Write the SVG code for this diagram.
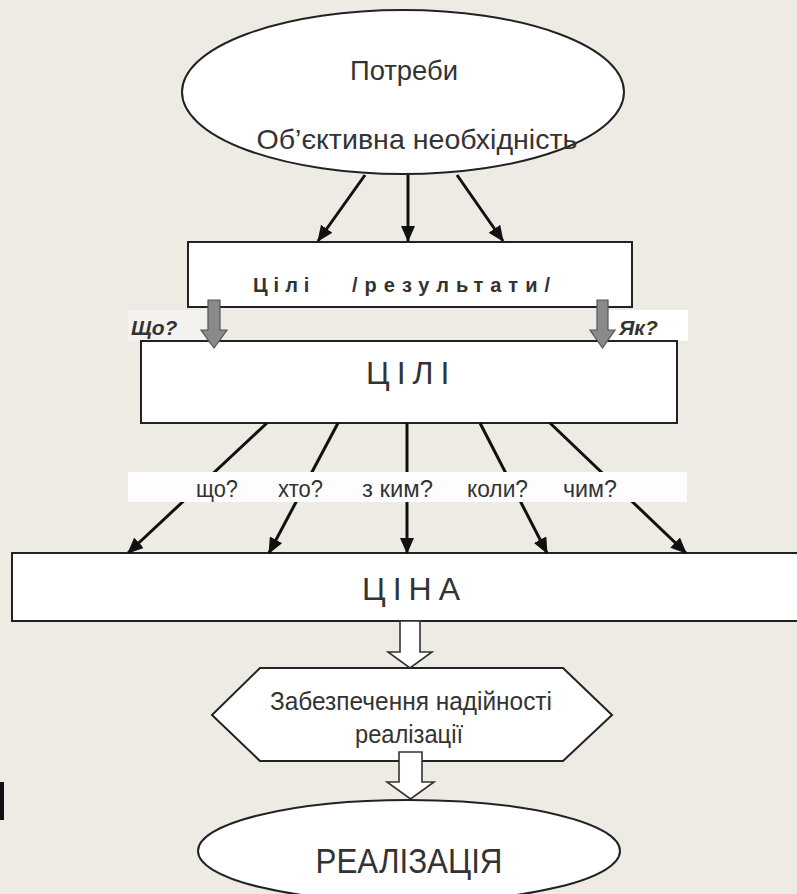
<svg xmlns="http://www.w3.org/2000/svg" width="797" height="894" viewBox="0 0 797 894">
  <style>
    .shape { fill: #ffffff; stroke: #222222; stroke-width: 2; }
    .txt { font-family: "Liberation Sans", Arial, sans-serif; fill: #333333; }
    .line { stroke: #111111; stroke-width: 3; fill: none; marker-end: url(#ah); }
    .grey { fill: #8a8a8a; stroke: #555555; stroke-width: 1.2; }
    .hollow { fill: #ffffff; stroke: #333333; stroke-width: 1.6; }
    .q { font-size: 24px; }
  </style>
  <defs>
    <marker id="ah" markerUnits="userSpaceOnUse" markerWidth="16" markerHeight="14" viewBox="0 0 16 14" refX="15" refY="7" orient="auto">
      <path d="M0,0 L16,7 L0,14 z" fill="#111111"/>
    </marker>
  </defs>

  <rect x="0" y="0" width="797" height="894" fill="#EDEBE3"/>

  <g id="needs">
    <ellipse class="shape" cx="403" cy="92" rx="221" ry="82" stroke-width="1.6"/>
    <text class="txt" x="404" y="80" font-size="28" text-anchor="middle" textLength="108" lengthAdjust="spacingAndGlyphs">Потреби</text>
    <text class="txt" x="417" y="149" font-size="28" text-anchor="middle" textLength="321" lengthAdjust="spacingAndGlyphs">Об’єктивна необхідність</text>
  </g>

  <g id="goals-results">
    <rect class="shape" x="188" y="242" width="444" height="65"/>
    <text class="txt" y="292" font-size="20" font-weight="bold" fill="#222222"><tspan x="253" letter-spacing="6">Цілі</tspan><tspan x="352" letter-spacing="7">/результати/</tspan></text>
  </g>

  <g id="label-what">
    <rect x="128" y="310" width="78" height="31" fill="#F3F2EE"/>
    <text class="txt" x="131" y="335" font-size="21" font-weight="bold" font-style="italic" fill="#222222">Що?</text>
  </g>
  <g id="label-how">
    <rect x="606" y="310" width="82" height="31" fill="#ffffff"/>
    <text class="txt" x="619" y="335" font-size="21" font-weight="bold" font-style="italic" fill="#222222">Як?</text>
  </g>

  <g id="goals">
    <rect class="shape" x="141" y="341" width="536" height="82"/>
    <text class="txt" x="366" y="384" font-size="32" letter-spacing="7" fill="#555555">ЦІЛІ</text>
  </g>

  <g id="price">
    <rect class="shape" x="12" y="553" width="800" height="68"/>
    <text class="txt" x="362" y="600" font-size="32" letter-spacing="7" fill="#444444">ЦІНА</text>
  </g>

  <g id="reliability">
    <polygon class="shape" points="260,668 563,668 612,715 563,761 260,761 212,715"/>
    <text class="txt" x="411" y="710" font-size="25" text-anchor="middle" textLength="282" lengthAdjust="spacingAndGlyphs">Забезпечення надійності</text>
    <text class="txt" x="409" y="743" font-size="25" text-anchor="middle" textLength="108" lengthAdjust="spacingAndGlyphs">реалізації</text>
  </g>

  <g id="realization">
    <ellipse class="shape" cx="409" cy="851" rx="211" ry="51" stroke-width="1.6"/>
    <text class="txt" x="409" y="873" font-size="35" text-anchor="middle" textLength="187" lengthAdjust="spacingAndGlyphs">РЕАЛІЗАЦІЯ</text>
  </g>

  <g id="connectors">
    <line class="line" x1="365" y1="175" x2="318" y2="241"/>
    <line class="line" x1="408" y1="175" x2="408" y2="241"/>
    <line class="line" x1="457" y1="175" x2="503" y2="241"/>

    <polygon class="grey" points="208,300 220,300 220,330 227,330 214,348 201,330 208,330"/>
    <polygon class="grey" points="597,300 608,300 608,330 615,330 602.5,348 590,330 597,330"/>

    <line class="line" x1="267" y1="423" x2="128" y2="553"/>
    <line class="line" x1="338" y1="423" x2="269" y2="553"/>
    <line class="line" x1="407" y1="423" x2="407" y2="553"/>
    <line class="line" x1="480" y1="423" x2="547" y2="553"/>
    <line class="line" x1="550" y1="423" x2="686" y2="553"/>

    <polygon class="hollow" points="400,621 420,621 420,652 432,652 410,668 388,652 400,652"/>
    <polygon class="hollow" points="399,752 422,752 422,782 434,782 410.5,799 387,782 399,782"/>
  </g>

  <g id="question-band">
    <rect x="128" y="472" width="559" height="30" fill="#fdfdfd"/>
    <text class="txt q" x="196" y="497" textLength="42" lengthAdjust="spacingAndGlyphs">що?</text>
    <text class="txt q" x="278" y="497" textLength="45" lengthAdjust="spacingAndGlyphs">хто?</text>
    <text class="txt q" x="362" y="497" textLength="71" lengthAdjust="spacingAndGlyphs">з ким?</text>
    <text class="txt q" x="467" y="497" textLength="61" lengthAdjust="spacingAndGlyphs">коли?</text>
    <text class="txt q" x="563" y="497" textLength="54" lengthAdjust="spacingAndGlyphs">чим?</text>
  </g>

  <rect x="0" y="782" width="4" height="38" fill="#111111"/>
</svg>
